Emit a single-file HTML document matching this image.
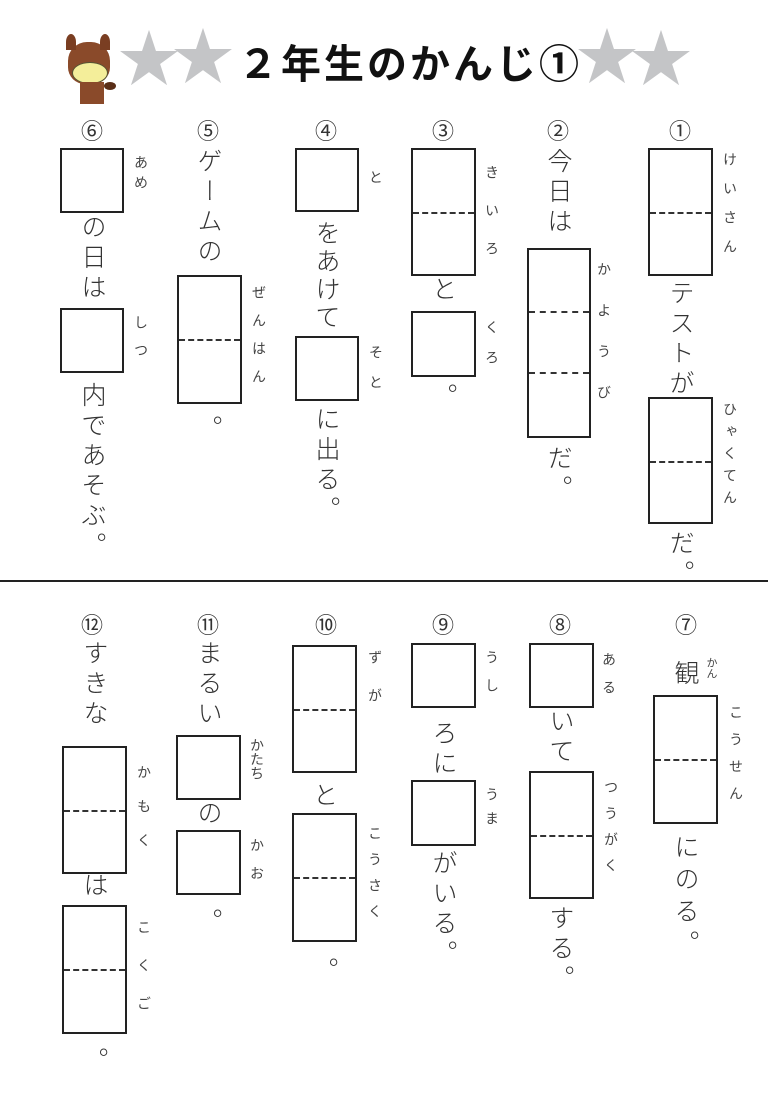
<!DOCTYPE html>
<html><head><meta charset="utf-8">
<style>
body{margin:0;width:768px;height:1095px;background:#fff;position:relative;overflow:hidden;font-family:"Liberation Sans","Noto Sans CJK JP",sans-serif;color:#333}
.v{position:absolute;writing-mode:vertical-rl;font-size:25px;letter-spacing:5px;line-height:30px;width:30px;white-space:nowrap;font-weight:300}
.f{position:absolute;writing-mode:vertical-rl;font-size:14px;line-height:16px;width:16px;white-space:nowrap;color:#444}
.n{position:absolute;font-size:22px;width:40px;text-align:center;line-height:24px}
.b{position:absolute;border:2px solid #222;box-sizing:border-box}
.d{position:absolute;left:0;right:0;border-top:2px dashed #333}
.s{position:absolute;font-size:62px;color:#c4c5c7;line-height:62px}
</style></head><body>
<!-- header -->
<div style="position:absolute;left:68px;top:42px;width:42px;height:42px;background:#8a4a2a;border-radius:45% 45% 40% 40%"></div>
<div style="position:absolute;left:66px;top:34px;width:10px;height:16px;background:#7a3e22;border-radius:50% 50% 0 0"></div>
<div style="position:absolute;left:100px;top:34px;width:10px;height:16px;background:#7a3e22;border-radius:50% 50% 0 0"></div>
<div style="position:absolute;left:72px;top:62px;width:34px;height:20px;background:#f4ee9a;border-radius:50%;border:1px solid #553"></div>
<div style="position:absolute;left:80px;top:82px;width:24px;height:22px;background:#8a4a2a"></div>
<div style="position:absolute;left:104px;top:82px;width:12px;height:8px;background:#5a2e18;border-radius:50%"></div>
<div class="s" style="left:118px;top:30px">★</div>
<div class="s" style="left:172px;top:28px">★</div>
<div class="s" style="left:576px;top:28px">★</div>
<div class="s" style="left:630px;top:30px">★</div>
<div style="position:absolute;left:238px;top:40px;font-size:40px;font-weight:bold;color:#111;line-height:50px;letter-spacing:3px">２年生のかんじ①</div>

<!-- col1 -->
<div class="n" style="left:660px;top:120px">①</div>
<div class="b" style="left:648px;top:148px;width:65px;height:128px"><div class="d" style="top:62px"></div></div>
<div class="f" style="left:722px;top:152px;letter-spacing:15px">けいさん</div>
<div class="v" style="left:665px;top:280px">テストが</div>
<div class="b" style="left:648px;top:397px;width:65px;height:127px"><div class="d" style="top:62px"></div></div>
<div class="f" style="left:722px;top:402px;letter-spacing:8px">ひゃくてん</div>
<div class="v" style="left:665px;top:530px">だ。</div>

<!-- col2 -->
<div class="n" style="left:538px;top:120px">②</div>
<div class="v" style="left:543px;top:148px">今日は</div>
<div class="b" style="left:527px;top:248px;width:64px;height:190px"><div class="d" style="top:61px"></div><div class="d" style="top:122px"></div></div>
<div class="f" style="left:596px;top:262px;letter-spacing:27px">かようび</div>
<div class="v" style="left:543px;top:445px">だ。</div>

<!-- col3 -->
<div class="n" style="left:423px;top:120px">③</div>
<div class="b" style="left:411px;top:148px;width:65px;height:128px"><div class="d" style="top:62px"></div></div>
<div class="f" style="left:484px;top:165px;letter-spacing:24px">きいろ</div>
<div class="v" style="left:428px;top:276px">と</div>
<div class="b" style="left:411px;top:311px;width:65px;height:66px"></div>
<div class="f" style="left:484px;top:320px;letter-spacing:16px">くろ</div>
<div class="v" style="left:428px;top:383px">。</div>

<!-- col4 -->
<div class="n" style="left:306px;top:120px">④</div>
<div class="b" style="left:295px;top:148px;width:64px;height:64px"></div>
<div class="f" style="left:368px;top:170px">と</div>
<div class="v" style="left:311px;top:220px;letter-spacing:3px">をあけて</div>
<div class="b" style="left:295px;top:336px;width:64px;height:65px"></div>
<div class="f" style="left:368px;top:345px;letter-spacing:16px">そと</div>
<div class="v" style="left:311px;top:406px">に出る。</div>

<!-- col5 -->
<div class="n" style="left:188px;top:120px">⑤</div>
<div class="v" style="left:193px;top:148px">ゲームの</div>
<div class="b" style="left:177px;top:275px;width:65px;height:129px"><div class="d" style="top:62px"></div></div>
<div class="f" style="left:251px;top:285px;letter-spacing:14px">ぜんはん</div>
<div class="v" style="left:193px;top:415px">。</div>

<!-- col6 -->
<div class="n" style="left:72px;top:120px">⑥</div>
<div class="b" style="left:60px;top:148px;width:64px;height:65px"></div>
<div class="f" style="left:133px;top:155px;letter-spacing:6px">あめ</div>
<div class="v" style="left:77px;top:214px">の日は</div>
<div class="b" style="left:60px;top:308px;width:64px;height:65px"></div>
<div class="f" style="left:133px;top:315px;letter-spacing:14px">しつ</div>
<div class="v" style="left:77px;top:382px">内であそぶ。</div>

<div style="position:absolute;left:0;top:580px;width:768px;height:2px;background:#222"></div>

<!-- col7 -->
<div class="n" style="left:666px;top:614px">⑦</div>
<div class="v" style="left:670px;top:660px">観</div>
<div class="f" style="left:704px;top:657px;font-size:11px;line-height:13px;width:13px">かん</div>
<div class="b" style="left:653px;top:695px;width:65px;height:129px"><div class="d" style="top:62px"></div></div>
<div class="f" style="left:728px;top:705px;letter-spacing:13px">こうせん</div>
<div class="v" style="left:670px;top:834px;letter-spacing:7px">にのる。</div>

<!-- col8 -->
<div class="n" style="left:540px;top:614px">⑧</div>
<div class="b" style="left:529px;top:643px;width:65px;height:65px"></div>
<div class="f" style="left:601px;top:652px;letter-spacing:14px">ある</div>
<div class="v" style="left:545px;top:708px">いて</div>
<div class="b" style="left:529px;top:771px;width:65px;height:128px"><div class="d" style="top:62px"></div></div>
<div class="f" style="left:603px;top:780px;letter-spacing:12px">つうがく</div>
<div class="v" style="left:545px;top:905px">する。</div>

<!-- col9 -->
<div class="n" style="left:423px;top:614px">⑨</div>
<div class="b" style="left:411px;top:643px;width:65px;height:65px"></div>
<div class="f" style="left:484px;top:650px;letter-spacing:14px">うし</div>
<div class="v" style="left:428px;top:720px">ろに</div>
<div class="b" style="left:411px;top:780px;width:65px;height:66px"></div>
<div class="f" style="left:484px;top:787px;letter-spacing:10px">うま</div>
<div class="v" style="left:428px;top:850px">がいる。</div>

<!-- col10 -->
<div class="n" style="left:306px;top:614px">⑩</div>
<div class="b" style="left:292px;top:645px;width:65px;height:128px"><div class="d" style="top:62px"></div></div>
<div class="f" style="left:367px;top:650px;letter-spacing:24px">ずが</div>
<div class="v" style="left:309px;top:782px">と</div>
<div class="b" style="left:292px;top:813px;width:65px;height:129px"><div class="d" style="top:62px"></div></div>
<div class="f" style="left:367px;top:826px;letter-spacing:12px">こうさく</div>
<div class="v" style="left:309px;top:957px">。</div>

<!-- col11 -->
<div class="n" style="left:188px;top:614px">⑪</div>
<div class="v" style="left:193px;top:640px">まるい</div>
<div class="b" style="left:176px;top:735px;width:65px;height:65px"></div>
<div class="f" style="left:249px;top:738px;line-height:16px">かたち</div>
<div class="v" style="left:193px;top:800px">の</div>
<div class="b" style="left:176px;top:830px;width:65px;height:65px"></div>
<div class="f" style="left:249px;top:838px;letter-spacing:14px">かお</div>
<div class="v" style="left:193px;top:908px">。</div>

<!-- col12 -->
<div class="n" style="left:72px;top:614px">⑫</div>
<div class="v" style="left:79px;top:640px">すきな</div>
<div class="b" style="left:62px;top:746px;width:65px;height:128px"><div class="d" style="top:62px"></div></div>
<div class="f" style="left:136px;top:765px;letter-spacing:20px">かもく</div>
<div class="v" style="left:79px;top:872px">は</div>
<div class="b" style="left:62px;top:905px;width:65px;height:129px"><div class="d" style="top:62px"></div></div>
<div class="f" style="left:136px;top:920px;letter-spacing:24px">こくご</div>
<div class="v" style="left:79px;top:1047px">。</div>
</body></html>
